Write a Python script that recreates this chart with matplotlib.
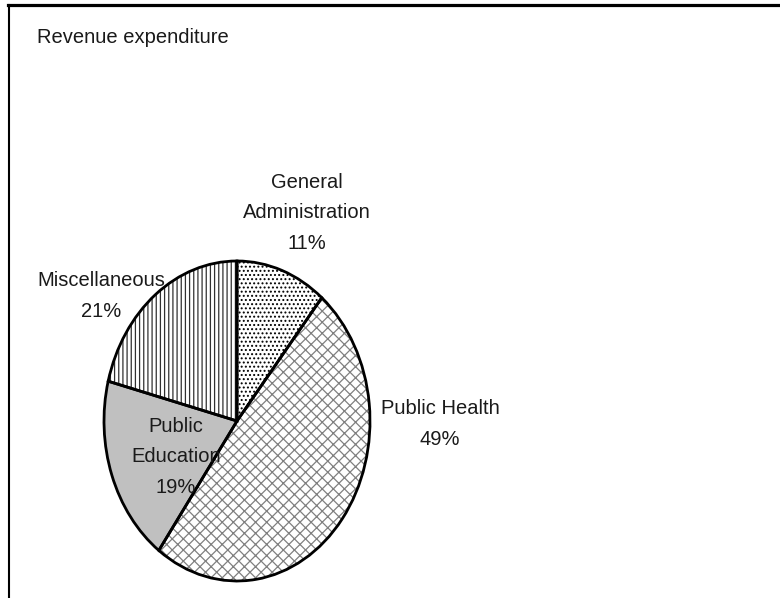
import matplotlib
matplotlib.use('Agg')
import matplotlib.pyplot as plt
from matplotlib.lines import Line2D

categories = ['General\nAdministration', 'Public Health', 'Public\nEducation', 'Miscellaneous']
shares = [11, 49, 19, 21]

# fill style for each wedge
fills = ['white', 'white', '#c0c0c0', 'white']
hatches = ['....', 'xxx', '', '||||']
hatch_colors = ['black', '#808080', '#c0c0c0', '#303030']

# label anchor for each wedge, in pie units
label_xy = [(0.526, 1.30), (1.526, -0.02), (-0.459, -0.225), (-1.023, 0.78)]

plt.rcParams['font.family'] = ['Liberation Sans', 'DejaVu Sans']
plt.rcParams['hatch.linewidth'] = 0.9

fig = plt.figure(figsize=(7.8, 5.98), dpi=100)

# pie is stretched vertically, so place the axes by pixel box
ax = fig.add_axes([104 / 780, 17 / 598, 266 / 780, 320 / 598])

wedges, _ = ax.pie(shares, startangle=90, counterclock=False,
                   colors=fills, wedgeprops=dict(linewidth=0))
for w, h, c in zip(wedges, hatches, hatch_colors):
    w.set_hatch(h)
    w.set_edgecolor(c)

# black outlines on top of the hatching
ax.pie(shares, startangle=90, counterclock=False,
       wedgeprops=dict(fill=False, edgecolor='black', linewidth=2.0))

ax.set_aspect('auto')
ax.set_xlim(-1, 1)
ax.set_ylim(-1, 1)

for name, val, (x, y) in zip(categories, shares, label_xy):
    ax.text(x, y, f'{name}\n{val}%', ha='center', va='center',
            fontsize=14.5, linespacing=1.78, color='#1a1a1a', clip_on=False)

fig.text(37 / 780, 1 - 43 / 598, 'Revenue expenditure', ha='left', va='baseline',
         fontsize=14.5, color='#1a1a1a')

# frame lines at the top and left edge
fig.add_artist(Line2D([8 / 780, 1], [1 - 4.5 / 598] * 2, color='black', linewidth=2.3))
fig.add_artist(Line2D([8.5 / 780] * 2, [0, 1 - 4.5 / 598], color='black', linewidth=1.5))

plt.savefig('out.png', dpi=100)
